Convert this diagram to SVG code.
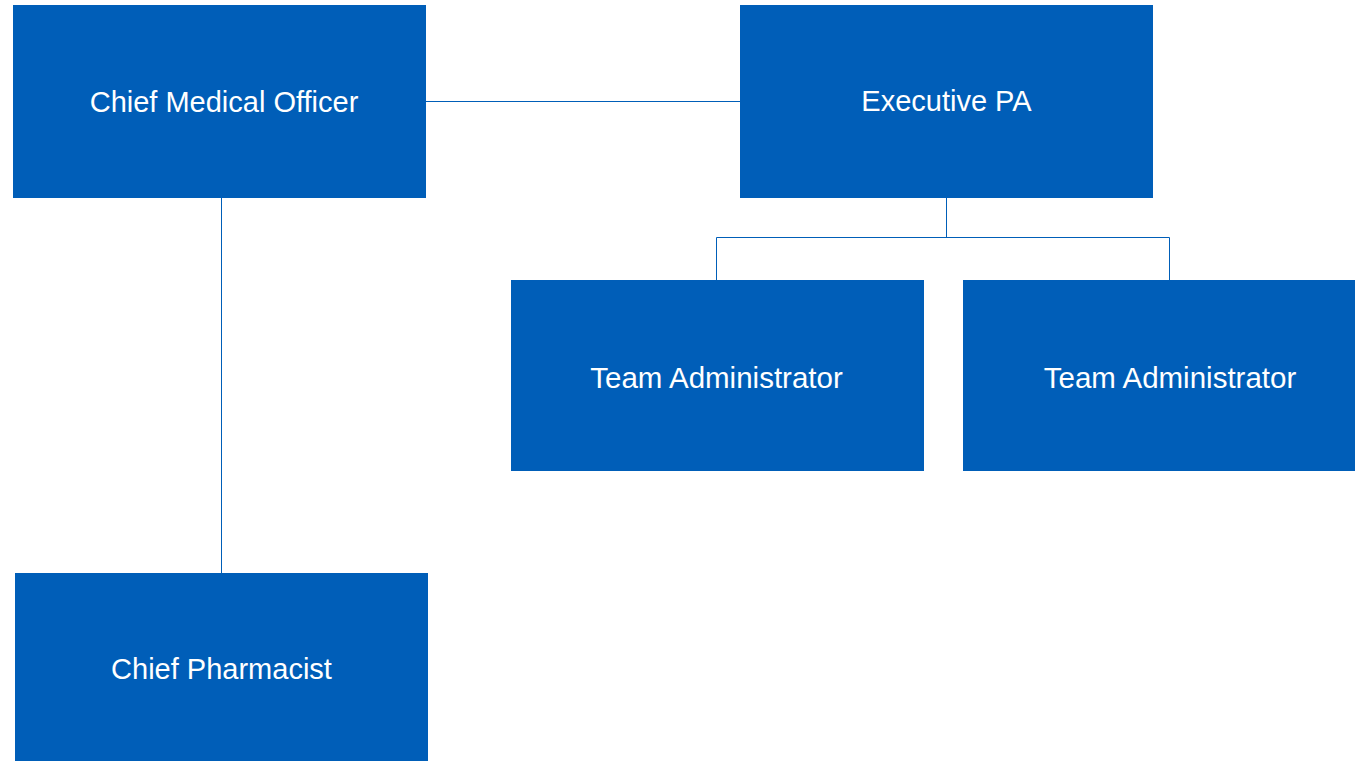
<svg xmlns="http://www.w3.org/2000/svg" width="1355" height="761" viewBox="0 0 1355 761">
<style>
.box{fill:#005EB8;}
.lbl{fill:#ffffff;font-family:"Liberation Sans",Arial,sans-serif;font-size:29px;text-anchor:middle;}
.ta{font-size:29.5px;}
.conn{stroke:#005EB8;stroke-width:1;fill:none;}
</style>
<rect width="1355" height="761" fill="#ffffff"/>
<g id="connectors">
<path class="conn" d="M426,101.5 H740"/>
<path class="conn" d="M221.5,198 V573"/>
<path class="conn" d="M946.5,198 V237.5"/>
<path class="conn" d="M716.5,280 V237.5 H1169.5 V280"/>
</g>
<g id="chief-medical-officer">
<rect class="box" x="13" y="5" width="413" height="193"/>
<text class="lbl" x="224" y="112">Chief Medical Officer</text>
</g>
<g id="executive-pa">
<rect class="box" x="740" y="5" width="413" height="193"/>
<text class="lbl" x="946.5" y="111">Executive PA</text>
</g>
<g id="team-administrator-1">
<rect class="box" x="511" y="280" width="413" height="191"/>
<text class="lbl ta" x="716.5" y="388">Team Administrator</text>
</g>
<g id="team-administrator-2">
<rect class="box" x="963" y="280" width="392" height="191"/>
<text class="lbl ta" x="1170" y="388">Team Administrator</text>
</g>
<g id="chief-pharmacist">
<rect class="box" x="15" y="573" width="413" height="188"/>
<text class="lbl" x="221.5" y="679">Chief Pharmacist</text>
</g>
</svg>
